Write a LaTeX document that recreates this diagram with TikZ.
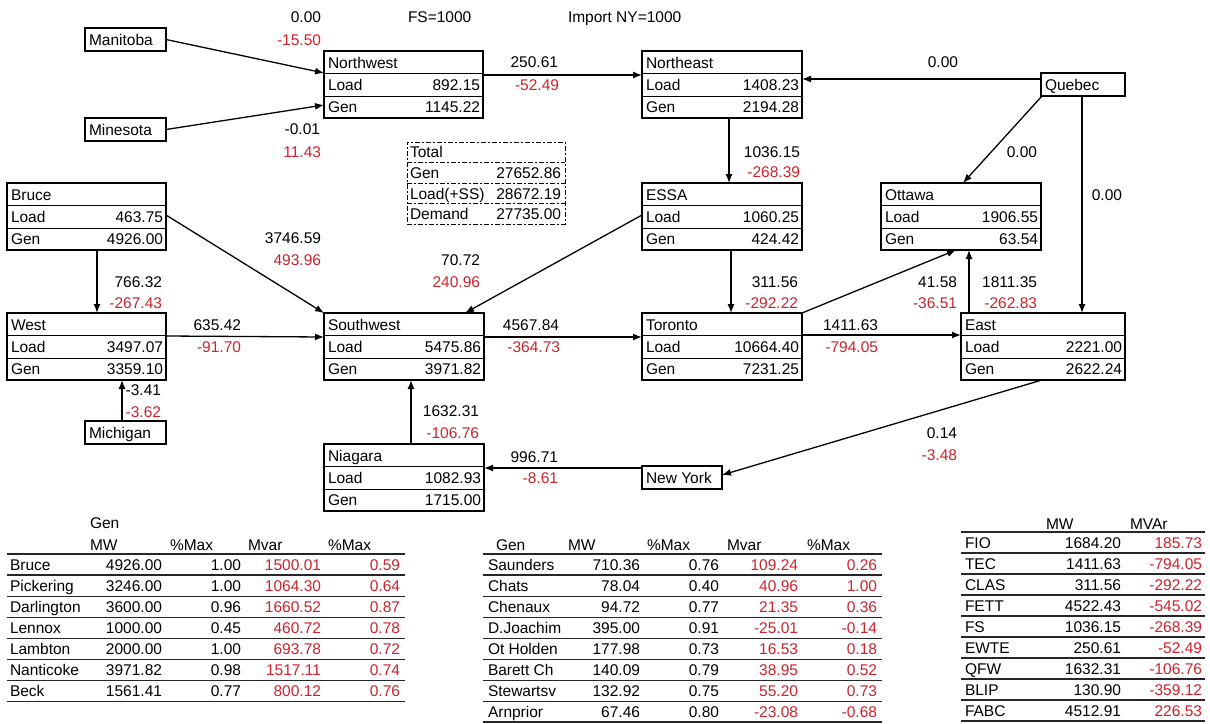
\documentclass[tikz,border=0pt]{standalone}
\usepackage{fontspec}
\setmainfont{Liberation Sans}
\usetikzlibrary{arrows.meta}
\definecolor{vred}{RGB}{205,35,45}
\tikzset{
  zone/.style={draw, line width=2.2pt, inner sep=0pt, outer sep=0pt, rectangle},
  rowline/.style={line width=1pt},
  lbl/.style={inner sep=0pt, outer sep=0pt, text height=11pt, text depth=0pt},
  mvar/.style={lbl, anchor=east, text=vred},
  mw/.style={lbl, anchor=east},
  flow/.style={line width=1.3pt, -{Latex[length=9pt,width=7pt]}},
  tline/.style={line width=1.3pt, black!85},
  totline/.style={line width=1pt, dash pattern=on 5pt off 2pt on 2pt off 2pt}
}
\newcommand\zonebox[7]{%
  \node[zone, minimum width=#4pt, minimum height=67pt, anchor=north west] (#1) at (#2,#3) {};
  \draw[rowline] ([yshift=-22pt]#1.north west) -- ([yshift=-22pt]#1.north east);
  \draw[rowline] ([yshift=-45pt]#1.north west) -- ([yshift=-45pt]#1.north east);
  \node[lbl, anchor=west] (#1-t) at ([xshift=4pt,yshift=-11.5pt]#1.north west) {#5};
  \node[lbl, anchor=west] (#1-l) at ([xshift=4pt,yshift=-33.5pt]#1.north west) {Load};
  \node[lbl, anchor=east] (#1-lv) at ([xshift=-3pt,yshift=-33.5pt]#1.north east) {#6};
  \node[lbl, anchor=west] (#1-g) at ([xshift=4pt,yshift=-56pt]#1.north west) {Gen};
  \node[lbl, anchor=east] (#1-gv) at ([xshift=-3pt,yshift=-56pt]#1.north east) {#7};
}
\newcommand\smallzone[5]{%
  \node[zone, minimum width=#4pt, minimum height=23pt, anchor=north west] (#1) at (#2,#3) {};
  \node[lbl, anchor=west] (#1-t) at ([xshift=4pt]#1.west) {#5};
}
\begin{document}
\begin{tikzpicture}[x=1pt, y=-1pt, font=\fontsize{15.5}{18}\selectfont]
\useasboundingbox[fill=white] (0,0) rectangle (1210,723);

% header texts
\node[lbl, anchor=west] (fs) at (408,17) {FS=1000};
\node[lbl, anchor=west] (imp) at (568,17) {Import NY=1000};

% zone boxes
\zonebox{nw}{324}{51}{159}{Northwest}{892.15}{1145.22}
\zonebox{ne}{642}{51}{160}{Northeast}{1408.23}{2194.28}
\zonebox{essa}{642}{183}{160}{ESSA}{1060.25}{424.42}
\zonebox{ott}{881}{183}{160}{Ottawa}{1906.55}{63.54}
\zonebox{bruce}{7}{183}{159}{Bruce}{463.75}{4926.00}
\zonebox{west}{7}{313}{159}{West}{3497.07}{3359.10}
\zonebox{sw}{324}{313}{160}{Southwest}{5475.86}{3971.82}
\zonebox{tor}{642}{313}{160}{Toronto}{10664.40}{7231.25}
\zonebox{east}{961}{313}{164}{East}{2221.00}{2622.24}
\zonebox{nia}{324}{444}{160}{Niagara}{1082.93}{1715.00}

% small boxes
\smallzone{mani}{85}{28}{81}{Manitoba}
\smallzone{mine}{85}{118}{81}{Minesota}
\smallzone{mich}{85}{421}{81}{Michigan}
\smallzone{queb}{1041}{73}{84}{Quebec}
\smallzone{ny}{642}{466}{80}{New York}

% total box
\node[draw, totline, inner sep=0pt, outer sep=0pt, minimum width=158pt, minimum height=82pt, anchor=north west] (tot) at (407,142) {};
\draw[totline] ([yshift=-20.5pt]tot.north west) -- ([yshift=-20.5pt]tot.north east);
\draw[totline] ([yshift=-41pt]tot.north west) -- ([yshift=-41pt]tot.north east);
\draw[totline] ([yshift=-61.5pt]tot.north west) -- ([yshift=-61.5pt]tot.north east);
\node[lbl, anchor=west] (tot-a) at (410,152) {Total};
\node[lbl, anchor=west] (tot-b) at (410,173) {Gen};
\node[lbl, anchor=east] (tot-bv) at (561,173) {27652.86};
\node[lbl, anchor=west] (tot-c) at (410,194) {Load(+SS)};
\node[lbl, anchor=east] (tot-cv) at (561,194) {28672.19};
\node[lbl, anchor=west] (tot-d) at (410,214) {Demand};
\node[lbl, anchor=east] (tot-dv) at (561,214) {27735.00};

% connectors
\draw[flow] (mani.east) -- ([yshift=-22pt]nw.north west);
\draw[flow] (mine.east) -- ([yshift=-54pt]nw.north west);
\draw[flow] ([yshift=-24pt]nw.north east) -- ([yshift=-24pt]ne.north west);
\draw[flow] ([yshift=-6pt]queb.north west) -- ([yshift=-28pt]ne.north east);
\draw[flow] ([xshift=1pt]queb.south west) -- ([xshift=82pt]ott.north west);
\draw[flow] ([xshift=41pt]queb.south west) -- ([xshift=121pt]east.north west);
\draw[flow] ([xshift=87pt]ne.south west) -- ([xshift=87pt]essa.north west);
\draw[flow] ([yshift=-32pt]essa.north west) -- ([xshift=141pt]sw.north west);
\draw[flow] ([xshift=89pt]essa.south west) -- ([xshift=89pt]tor.north west);
\draw[flow] ([yshift=-32pt]bruce.north east) -- (sw.north west);
\draw[flow] ([xshift=90pt]bruce.south west) -- ([xshift=90pt]west.north west);
\draw[flow] ([yshift=-23pt]west.north east) -- ([yshift=-24pt]sw.north west);
\draw[flow] ([xshift=37pt]mich.north west) -- ([xshift=115pt]west.south west);
\draw[flow] ([yshift=-24pt]sw.north east) -- ([yshift=-24pt]tor.north west);
\draw[flow] ([xshift=87pt]nia.north west) -- ([xshift=87pt]sw.south west);
\draw[flow] ([yshift=-2pt]ny.north west) -- ([yshift=-24pt]nia.north east);
\draw[flow] ([xshift=81pt]east.south west) -- ([yshift=-9pt]ny.north east);
\draw[flow] (tor.north east) -- ([xshift=75pt]ott.south west);
\draw[flow] ([xshift=8pt]east.north west) -- ([xshift=88pt]ott.south west);
\draw[flow] ([yshift=-22pt]tor.north east) -- ([yshift=-22pt]east.north west);

% flow labels
\node[mw] (f1a) at (321,17) {0.00};
\node[mvar] (f1b) at (321,40) {-15.50};
\node[mw] (f2a) at (320,129) {-0.01};
\node[mvar] (f2b) at (321,152) {11.43};
\node[mw] (f3a) at (558,62) {250.61};
\node[mvar] (f3b) at (559,85) {-52.49};
\node[mw] (f4a) at (958,62) {0.00};
\node[mw] (f5a) at (1037,152) {0.00};
\node[mw] (f6a) at (1122,195) {0.00};
\node[mw] (f7a) at (800,152) {1036.15};
\node[mvar] (f7b) at (800,172) {-268.39};
\node[mw] (f8a) at (321,238) {3746.59};
\node[mvar] (f8b) at (321,260) {493.96};
\node[mw] (f9a) at (480,260) {70.72};
\node[mvar] (f9b) at (480,282) {240.96};
\node[mw] (f10a) at (162,282) {766.32};
\node[mvar] (f10b) at (162,303) {-267.43};
\node[mw] (f11a) at (798,282) {311.56};
\node[mvar] (f11b) at (798,303) {-292.22};
\node[mw] (f12a) at (957,282) {41.58};
\node[mvar] (f12b) at (957,303) {-36.51};
\node[mw] (f13a) at (1037,282) {1811.35};
\node[mvar] (f13b) at (1037,303) {-262.83};
\node[mw] (f14a) at (241,325) {635.42};
\node[mvar] (f14b) at (241,347) {-91.70};
\node[mw] (f15a) at (559,325) {4567.84};
\node[mvar] (f15b) at (560,347) {-364.73};
\node[mw] (f16a) at (878,325) {1411.63};
\node[mvar] (f16b) at (878,347) {-794.05};
\node[mw] (f17a) at (161,390) {-3.41};
\node[mvar] (f17b) at (161,412) {-3.62};
\node[mw] (f18a) at (479,411) {1632.31};
\node[mvar] (f18b) at (479,433) {-106.76};
\node[mw] (f19a) at (558,457) {996.71};
\node[mvar] (f19b) at (558,478) {-8.61};
\node[mw] (f20a) at (957,433) {0.14};
\node[mvar] (f20b) at (957,455) {-3.48};

% table 1
\node[lbl, anchor=west] (ta-gen) at (90,523) {Gen};
\node[lbl, anchor=west] (ta-h1) at (90,545) {MW};
\node[lbl, anchor=west] (ta-h2) at (170,545) {\%Max};
\node[lbl, anchor=west] (ta-h3) at (248,545) {Mvar};
\node[lbl, anchor=west] (ta-h4) at (328,545) {\%Max};
\foreach \k in {0,...,7} \draw[tline] (7,{554+21.1*\k}) -- (405,{554+21.1*\k});
\foreach \n/\a/\b/\c/\d [count=\k] in {Bruce/4926.00/1.00/1500.01/0.59, Pickering/3246.00/1.00/1064.30/0.64, Darlington/3600.00/0.96/1660.52/0.87, Lennox/1000.00/0.45/460.72/0.78, Lambton/2000.00/1.00/693.78/0.72, Nanticoke/3971.82/0.98/1517.11/0.74, Beck/1561.41/0.77/800.12/0.76} {
  \node[lbl, anchor=west] (ta-n\k) at (10,{554+21.1*(\k-0.5)}) {\n};
  \node[mw] (ta-a\k) at (162,{554+21.1*(\k-0.5)}) {\a};
  \node[mw] (ta-b\k) at (241,{554+21.1*(\k-0.5)}) {\b};
  \node[mvar] (ta-c\k) at (321,{554+21.1*(\k-0.5)}) {\c};
  \node[mvar] (ta-d\k) at (400,{554+21.1*(\k-0.5)}) {\d};
}

% table 2
\node[lbl, anchor=west] (tb-h0) at (496,545) {Gen};
\node[lbl, anchor=west] (tb-h1) at (568,545) {MW};
\node[lbl, anchor=west] (tb-h2) at (647,545) {\%Max};
\node[lbl, anchor=west] (tb-h3) at (727,545) {Mvar};
\node[lbl, anchor=west] (tb-h4) at (807,545) {\%Max};
\foreach \k in {0,...,8} \draw[tline] (483,{min(554+21.1*\k,722)}) -- (882,{min(554+21.1*\k,722)});
\foreach \n/\a/\b/\c/\d [count=\k] in {Saunders/710.36/0.76/109.24/0.26, Chats/78.04/0.40/40.96/1.00, Chenaux/94.72/0.77/21.35/0.36, D.Joachim/395.00/0.91/-25.01/-0.14, Ot Holden/177.98/0.73/16.53/0.18, Barett Ch/140.09/0.79/38.95/0.52, Stewartsv/132.92/0.75/55.20/0.73, Arnprior/67.46/0.80/-23.08/-0.68} {
  \node[lbl, anchor=west] (tb-n\k) at (488,{554+21.1*(\k-0.5)}) {\n};
  \node[mw] (tb-a\k) at (640,{554+21.1*(\k-0.5)}) {\a};
  \node[mw] (tb-b\k) at (719,{554+21.1*(\k-0.5)}) {\b};
  \node[mvar] (tb-c\k) at (798,{554+21.1*(\k-0.5)}) {\c};
  \node[mvar] (tb-d\k) at (877,{554+21.1*(\k-0.5)}) {\d};
}

% table 3
\node[lbl, anchor=west] (tc-h1) at (1046,524) {MW};
\node[lbl, anchor=west] (tc-h2) at (1130,524) {MVAr};
\foreach \k in {0,...,9} \draw[tline] (961,{min(532+21*\k,722)}) -- (1205,{min(532+21*\k,722)});
\foreach \n/\a/\c [count=\k] in {FIO/1684.20/185.73, TEC/1411.63/-794.05, CLAS/311.56/-292.22, FETT/4522.43/-545.02, FS/1036.15/-268.39, EWTE/250.61/-52.49, QFW/1632.31/-106.76, BLIP/130.90/-359.12, FABC/4512.91/226.53} {
  \node[lbl, anchor=west] (tc-n\k) at (965,{532+21*(\k-0.5)}) {\n};
  \node[mw] (tc-a\k) at (1121,{532+21*(\k-0.5)}) {\a};
  \node[mvar] (tc-c\k) at (1202,{532+21*(\k-0.5)}) {\c};
}
\end{tikzpicture}
\end{document}
